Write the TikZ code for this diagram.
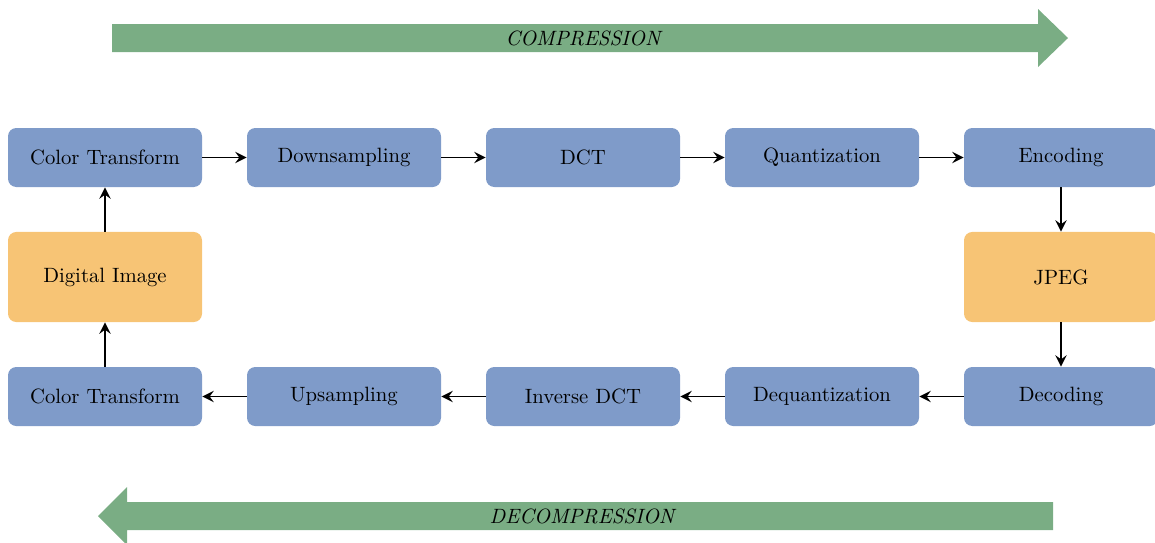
\documentclass[tikz,border=0pt]{standalone}
\usetikzlibrary{arrows.meta}
\definecolor{boxblue}{RGB}{127,155,201}
\definecolor{boxorange}{RGB}{247,196,117}
\definecolor{arrgreen}{RGB}{122,173,132}
\begin{document}
\begin{tikzpicture}[x=0.483pt,y=-0.483pt,
  stepbox/.style={rectangle, rounded corners=4pt, fill=boxblue, minimum width=93.7pt, minimum height=28.5pt, inner sep=0pt, font=\normalsize},
  endbox/.style={rectangle, rounded corners=4pt, fill=boxorange, minimum width=93.7pt, minimum height=43.5pt, inner sep=0pt},
  conn/.style={-{Stealth[length=5.5pt,width=5.5pt,inset=2pt]}, thick},
  phase/.style={font=\itshape}]
\useasboundingbox (0,0) rectangle (1155,542);
% top row
\node[stepbox] (ct1) at (105,157.5) {Color Transform};
\node[stepbox] (ds) at (344,157.5) {Downsampling};
\node[stepbox] (dct) at (583,157.5) {DCT};
\node[stepbox] (q) at (822,157.5) {Quantization};
\node[stepbox] (enc) at (1061,157.5) {Encoding};
% middle
\node[endbox] (img) at (105,277) {Digital Image};
\node[endbox] (jpeg) at (1061,277) {JPEG};
% bottom row
\node[stepbox] (ct2) at (105,396.5) {Color Transform};
\node[stepbox] (us) at (344,396.5) {Upsampling};
\node[stepbox] (idct) at (583,396.5) {Inverse DCT};
\node[stepbox] (dq) at (822,396.5) {Dequantization};
\node[stepbox] (dec) at (1061,396.5) {Decoding};
% connectors
\draw[conn] (img) -- (ct1);
\draw[conn] (ct1) -- (ds);
\draw[conn] (ds) -- (dct);
\draw[conn] (dct) -- (q);
\draw[conn] (q) -- (enc);
\draw[conn] (enc) -- (jpeg);
\draw[conn] (jpeg) -- (dec);
\draw[conn] (dec) -- (dq);
\draw[conn] (dq) -- (idct);
\draw[conn] (idct) -- (us);
\draw[conn] (us) -- (ct2);
\draw[conn] (ct2) -- (img);
% phase arrows
\fill[arrgreen] (112,24) -- (1038,24) -- (1038,9) -- (1068,38) -- (1038,67) -- (1038,52) -- (112,52) -- cycle;
\node[phase] (comp) at (583,38) {COMPRESSION};
\fill[arrgreen] (1053,502) -- (127,502) -- (127,487) -- (98,516) -- (127,545) -- (127,530) -- (1053,530) -- cycle;
\node[phase] (decomp) at (582,516) {DECOMPRESSION};
\end{tikzpicture}
\end{document}
